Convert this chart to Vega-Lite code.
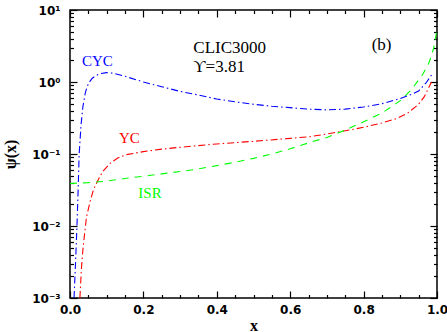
{
  "$schema": "https://vega.github.io/schema/vega-lite/v6.json",
  "width": 367,
  "height": 288,
  "autosize": {"type": "none"},
  "padding": {"left": 70, "top": 10, "right": 10, "bottom": 34},
  "background": "white",
  "config": {
    "view": {"stroke": "#000", "strokeWidth": 1.5},
    "axis": {
      "domain": false, "grid": false, "ticks": true, "tickColor": "#000", "tickWidth": 1.2,
      "labelFont": "DejaVu Sans", "labelFontSize": 12, "labelFontWeight": "bold", "labelColor": "#000",
      "titleFont": "Liberation Serif", "titleFontWeight": "bold", "titleFontSize": 16, "titleColor": "#000",
      "labelFlush": false, "labelOverlap": false
    }
  },
  "datasets": {
    "curves": [
      {"series": "CYC", "x": 0.011, "psi": 0.001},
      {"series": "CYC", "x": 0.015, "psi": 0.003},
      {"series": "CYC", "x": 0.019, "psi": 0.01},
      {"series": "CYC", "x": 0.022, "psi": 0.03},
      {"series": "CYC", "x": 0.025, "psi": 0.1},
      {"series": "CYC", "x": 0.03, "psi": 0.25},
      {"series": "CYC", "x": 0.035, "psi": 0.45},
      {"series": "CYC", "x": 0.042, "psi": 0.72},
      {"series": "CYC", "x": 0.05, "psi": 0.95},
      {"series": "CYC", "x": 0.06, "psi": 1.12},
      {"series": "CYC", "x": 0.07, "psi": 1.22},
      {"series": "CYC", "x": 0.08, "psi": 1.3},
      {"series": "CYC", "x": 0.1, "psi": 1.35},
      {"series": "CYC", "x": 0.12, "psi": 1.32},
      {"series": "CYC", "x": 0.15, "psi": 1.2},
      {"series": "CYC", "x": 0.2, "psi": 1.0},
      {"series": "CYC", "x": 0.25, "psi": 0.86},
      {"series": "CYC", "x": 0.3, "psi": 0.74},
      {"series": "CYC", "x": 0.35, "psi": 0.66},
      {"series": "CYC", "x": 0.4, "psi": 0.58},
      {"series": "CYC", "x": 0.45, "psi": 0.53},
      {"series": "CYC", "x": 0.5, "psi": 0.49},
      {"series": "CYC", "x": 0.55, "psi": 0.46},
      {"series": "CYC", "x": 0.6, "psi": 0.44},
      {"series": "CYC", "x": 0.65, "psi": 0.42},
      {"series": "CYC", "x": 0.7, "psi": 0.41},
      {"series": "CYC", "x": 0.75, "psi": 0.42},
      {"series": "CYC", "x": 0.8, "psi": 0.45},
      {"series": "CYC", "x": 0.85, "psi": 0.5},
      {"series": "CYC", "x": 0.9, "psi": 0.59},
      {"series": "CYC", "x": 0.93, "psi": 0.67},
      {"series": "CYC", "x": 0.95, "psi": 0.75},
      {"series": "CYC", "x": 0.97, "psi": 0.97},
      {"series": "CYC", "x": 0.985, "psi": 1.25},
      {"series": "YC", "x": 0.027, "psi": 0.001},
      {"series": "YC", "x": 0.031, "psi": 0.0025},
      {"series": "YC", "x": 0.035, "psi": 0.0046},
      {"series": "YC", "x": 0.04, "psi": 0.008},
      {"series": "YC", "x": 0.045, "psi": 0.0134},
      {"series": "YC", "x": 0.055, "psi": 0.022},
      {"series": "YC", "x": 0.064, "psi": 0.032},
      {"series": "YC", "x": 0.077, "psi": 0.044},
      {"series": "YC", "x": 0.09, "psi": 0.058},
      {"series": "YC", "x": 0.109, "psi": 0.074},
      {"series": "YC", "x": 0.13, "psi": 0.088},
      {"series": "YC", "x": 0.154, "psi": 0.098},
      {"series": "YC", "x": 0.2, "psi": 0.108},
      {"series": "YC", "x": 0.245, "psi": 0.116},
      {"series": "YC", "x": 0.3, "psi": 0.124},
      {"series": "YC", "x": 0.4, "psi": 0.138},
      {"series": "YC", "x": 0.5, "psi": 0.15},
      {"series": "YC", "x": 0.6, "psi": 0.165},
      {"series": "YC", "x": 0.654, "psi": 0.174},
      {"series": "YC", "x": 0.7, "psi": 0.19},
      {"series": "YC", "x": 0.75, "psi": 0.21},
      {"series": "YC", "x": 0.8, "psi": 0.235},
      {"series": "YC", "x": 0.85, "psi": 0.27},
      {"series": "YC", "x": 0.89, "psi": 0.31},
      {"series": "YC", "x": 0.92, "psi": 0.37},
      {"series": "YC", "x": 0.948, "psi": 0.48},
      {"series": "YC", "x": 0.965, "psi": 0.62},
      {"series": "YC", "x": 0.981, "psi": 0.91},
      {"series": "YC", "x": 0.985, "psi": 1.0},
      {"series": "ISR", "x": 0.0, "psi": 0.039},
      {"series": "ISR", "x": 0.05, "psi": 0.04},
      {"series": "ISR", "x": 0.1, "psi": 0.042},
      {"series": "ISR", "x": 0.154, "psi": 0.046},
      {"series": "ISR", "x": 0.2, "psi": 0.049},
      {"series": "ISR", "x": 0.25, "psi": 0.053},
      {"series": "ISR", "x": 0.3, "psi": 0.057},
      {"series": "ISR", "x": 0.35, "psi": 0.062},
      {"series": "ISR", "x": 0.4, "psi": 0.069},
      {"series": "ISR", "x": 0.45, "psi": 0.077},
      {"series": "ISR", "x": 0.481, "psi": 0.083},
      {"series": "ISR", "x": 0.5, "psi": 0.087},
      {"series": "ISR", "x": 0.55, "psi": 0.1},
      {"series": "ISR", "x": 0.6, "psi": 0.118},
      {"series": "ISR", "x": 0.654, "psi": 0.145},
      {"series": "ISR", "x": 0.7, "psi": 0.17},
      {"series": "ISR", "x": 0.75, "psi": 0.215},
      {"series": "ISR", "x": 0.8, "psi": 0.28},
      {"series": "ISR", "x": 0.85, "psi": 0.37},
      {"series": "ISR", "x": 0.9, "psi": 0.55},
      {"series": "ISR", "x": 0.93, "psi": 0.78},
      {"series": "ISR", "x": 0.96, "psi": 1.25},
      {"series": "ISR", "x": 0.975, "psi": 1.7},
      {"series": "ISR", "x": 0.985, "psi": 2.3},
      {"series": "ISR", "x": 0.993, "psi": 3.3},
      {"series": "ISR", "x": 1.0, "psi": 5.5}
    ],
    "notes": [
      {"label": "CYC", "series": "CYC", "x": 0.0745, "psi": 1.96},
      {"label": "YC", "series": "YC", "x": 0.162, "psi": 0.165},
      {"label": "ISR", "series": "ISR", "x": 0.218, "psi": 0.0287}
    ],
    "panel": [
      {"label": "(b)", "x": 0.849, "psi": 3.27}
    ],
    "header": [
      {"label": "CLIC3000", "x": 0.336, "psi": 2.97},
      {"label": "ϒ=3.81", "x": 0.336, "psi": 1.62}
    ]
  },
  "resolve": {"axis": {"x": "independent", "y": "independent"}},
  "layer": [
    {
      "data": {"name": "curves"},
      "mark": {"type": "line", "strokeWidth": 1.1, "clip": true},
      "encoding": {
        "x": {
          "field": "x", "type": "quantitative",
          "scale": {"domain": [0, 1], "nice": false, "zero": false},
          "axis": {
            "orient": "bottom", "title": "x", "offset": -7, "tickSize": 7,
            "values": [0, 0.2, 0.4, 0.6, 0.8, 1], "format": ".1f",
            "labelPadding": 6.5, "titleBaseline": "alphabetic", "titleY": 39
          }
        },
        "y": {
          "field": "psi", "type": "quantitative",
          "scale": {"type": "log", "domain": [0.001, 10], "nice": false},
          "axis": {
            "orient": "left", "title": "ψ(x)", "offset": -7, "tickSize": 7,
            "values": [0.001, 0.01, 0.1, 1, 10],
            "labelExpr": "datum.value == 10 ? '10¹' : datum.value == 1 ? '10⁰' : datum.value == 0.1 ? '10⁻¹' : datum.value == 0.01 ? '10⁻²' : '10⁻³'",
            "labelPadding": 10, "titleBaseline": "alphabetic", "titleX": -61.5, "titleY": 144, "titleAngle": -90
          }
        },
        "color": {
          "field": "series", "type": "nominal",
          "scale": {"domain": ["CYC", "YC", "ISR"], "range": ["#0000ff", "#ff0000", "#00ff00"]},
          "legend": null
        },
        "strokeDash": {
          "field": "series", "type": "nominal",
          "scale": {"domain": ["CYC", "YC", "ISR"], "range": [[7, 3, 1.5, 3], [7, 3, 1.5, 3], [7, 6]]},
          "legend": null
        }
      }
    },
    {
      "data": {"name": "notes"},
      "mark": {"type": "text", "font": "Liberation Serif", "fontSize": 15, "align": "center", "baseline": "middle"},
      "encoding": {
        "x": {
          "field": "x", "type": "quantitative",
          "scale": {"domain": [0, 1], "nice": false, "zero": false},
          "axis": {
            "orient": "bottom", "title": null, "labels": false, "offset": -3.5, "tickSize": 3.5,
            "values": [0.05,0.1,0.15,0.25,0.3,0.35,0.45,0.5,0.55,0.65,0.7,0.75,0.85,0.9,0.95]
          }
        },
        "y": {
          "field": "psi", "type": "quantitative",
          "scale": {"type": "log", "domain": [0.001, 10], "nice": false},
          "axis": {
            "orient": "left", "title": null, "labels": false, "offset": -3.5, "tickSize": 3.5,
            "values": [0.002,0.003,0.004,0.005,0.006,0.007,0.008,0.009,0.02,0.03,0.04,0.05,0.06,0.07,0.08,0.09,0.2,0.3,0.4,0.5,0.6,0.7,0.8,0.9,2,3,4,5,6,7,8,9]
          }
        },
        "text": {"field": "label"},
        "color": {"field": "series", "type": "nominal", "legend": null}
      }
    },
    {
      "data": {"name": "panel"},
      "mark": {"type": "text", "font": "Liberation Serif", "fontSize": 17, "align": "center", "baseline": "middle", "color": "#000"},
      "encoding": {
        "x": {
          "field": "x", "type": "quantitative",
          "scale": {"domain": [0, 1], "nice": false, "zero": false},
          "axis": {
            "orient": "top", "title": null, "labels": false, "offset": -7, "tickSize": 7,
            "values": [0, 0.2, 0.4, 0.6, 0.8, 1]
          }
        },
        "y": {
          "field": "psi", "type": "quantitative",
          "scale": {"type": "log", "domain": [0.001, 10], "nice": false},
          "axis": {
            "orient": "right", "title": null, "labels": false, "offset": -7, "tickSize": 7,
            "values": [0.001, 0.01, 0.1, 1, 10]
          }
        },
        "text": {"field": "label"}
      }
    },
    {
      "data": {"name": "header"},
      "mark": {"type": "text", "font": "Liberation Serif", "fontSize": 17, "align": "left", "baseline": "middle", "color": "#000"},
      "encoding": {
        "x": {
          "field": "x", "type": "quantitative",
          "scale": {"domain": [0, 1], "nice": false, "zero": false},
          "axis": {
            "orient": "top", "title": null, "labels": false, "offset": -3.5, "tickSize": 3.5,
            "values": [0.05,0.1,0.15,0.25,0.3,0.35,0.45,0.5,0.55,0.65,0.7,0.75,0.85,0.9,0.95]
          }
        },
        "y": {
          "field": "psi", "type": "quantitative",
          "scale": {"type": "log", "domain": [0.001, 10], "nice": false},
          "axis": {
            "orient": "right", "title": null, "labels": false, "offset": -3.5, "tickSize": 3.5,
            "values": [0.002,0.003,0.004,0.005,0.006,0.007,0.008,0.009,0.02,0.03,0.04,0.05,0.06,0.07,0.08,0.09,0.2,0.3,0.4,0.5,0.6,0.7,0.8,0.9,2,3,4,5,6,7,8,9]
          }
        },
        "text": {"field": "label"}
      }
    }
  ]
}
